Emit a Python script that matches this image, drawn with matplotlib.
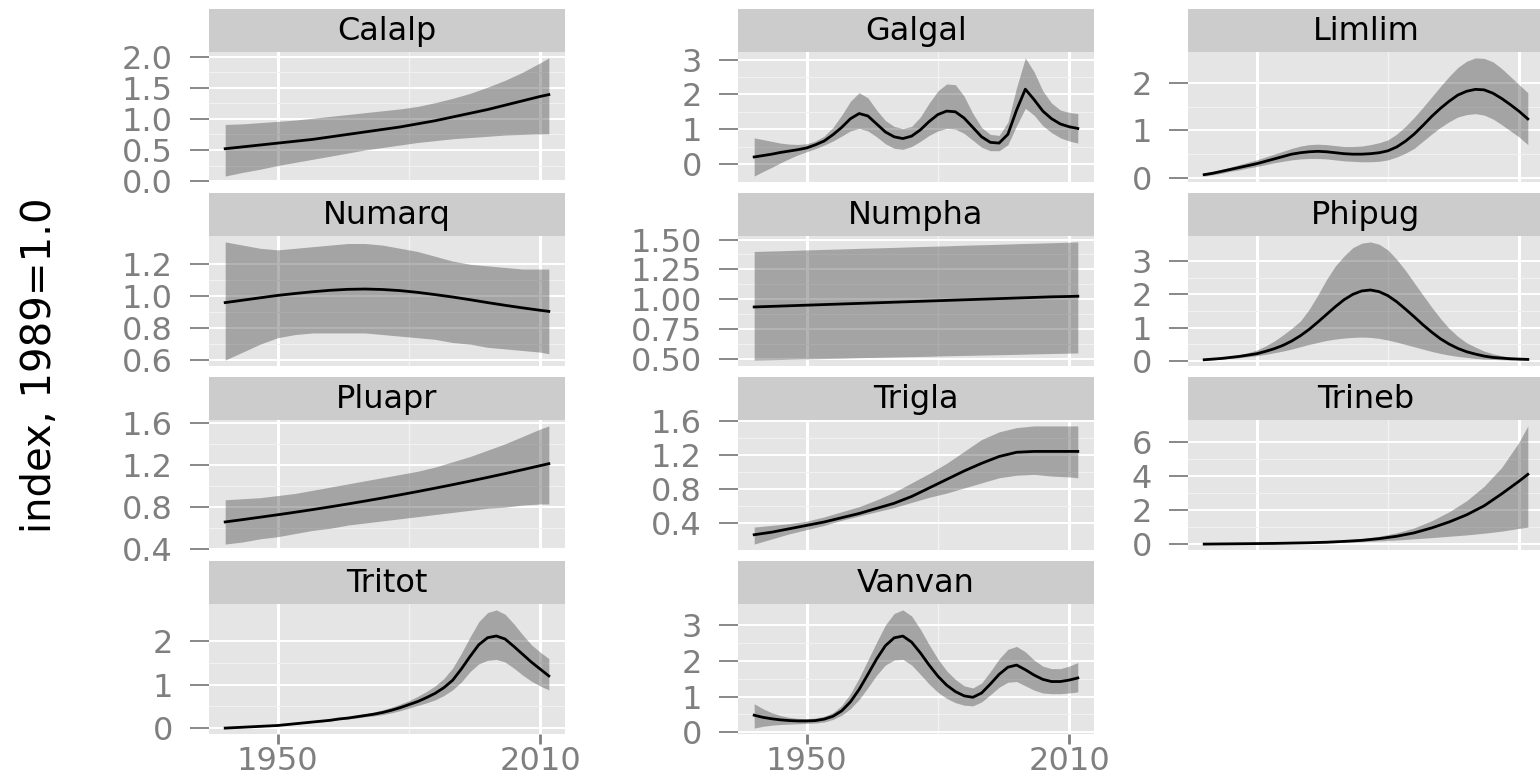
import matplotlib
matplotlib.use('Agg')
import matplotlib.pyplot as plt
import numpy as np

# ---- data (index, 1989=1.0) ----
years_4 = [1938, 1942, 1946, 1950, 1954, 1958, 1962, 1966, 1970, 1974,
           1978, 1982, 1986, 1990, 1994, 1998, 2002, 2006, 2010, 2012]
years_2 = [1938, 1940, 1942, 1944, 1946, 1948, 1950, 1952, 1954, 1956,
           1958, 1960, 1962, 1964, 1966, 1968, 1970, 1972, 1974, 1976,
           1978, 1980, 1982, 1984, 1986, 1988, 1990, 1992, 1994, 1996,
           1998, 2000, 2002, 2004, 2006, 2008, 2010, 2012]

calalp_fit = [0.52, 0.55, 0.58, 0.61, 0.64, 0.67, 0.71, 0.75, 0.79, 0.83, 0.87, 0.92, 0.97, 1.03, 1.09, 1.15, 1.22, 1.29, 1.36, 1.39]
calalp_hi = [0.91, 0.92, 0.94, 0.96, 0.98, 1.01, 1.04, 1.07, 1.10, 1.13, 1.16, 1.20, 1.26, 1.33, 1.41, 1.51, 1.62, 1.75, 1.90, 1.98]
calalp_lo = [0.08, 0.14, 0.19, 0.25, 0.30, 0.35, 0.40, 0.45, 0.50, 0.54, 0.58, 0.62, 0.65, 0.68, 0.70, 0.72, 0.74, 0.75, 0.76, 0.76]

galgal_fit = [0.20, 0.24, 0.28, 0.33, 0.37, 0.41, 0.46, 0.55, 0.66, 0.84, 1.05, 1.30, 1.45, 1.38, 1.15, 0.92, 0.78, 0.73, 0.80,
              0.98, 1.22, 1.42, 1.52, 1.50, 1.32, 1.05, 0.78, 0.62, 0.60, 0.85, 1.55, 2.15, 1.85, 1.52, 1.30, 1.15, 1.07, 1.02]
galgal_hi = [0.75, 0.70, 0.65, 0.60, 0.57, 0.56, 0.58, 0.66, 0.80, 1.05, 1.40, 1.80, 2.05, 1.90, 1.55, 1.25, 1.08, 1.02, 1.08,
             1.35, 1.75, 2.10, 2.30, 2.28, 1.95, 1.45, 1.05, 0.85, 0.82, 1.20, 2.20, 3.05, 2.65, 2.10, 1.75, 1.55, 1.48, 1.45]
galgal_lo = [-0.35, -0.22, -0.10, 0.03, 0.15, 0.26, 0.35, 0.44, 0.54, 0.66, 0.80, 0.95, 1.02, 0.95, 0.78, 0.58, 0.45, 0.42, 0.50,
             0.65, 0.82, 0.95, 1.02, 1.00, 0.88, 0.68, 0.48, 0.38, 0.38, 0.55, 1.10, 1.60, 1.40, 1.10, 0.90, 0.75, 0.66, 0.60]

limlim_fit = [0.07, 0.10, 0.14, 0.18, 0.22, 0.26, 0.30, 0.35, 0.40, 0.45, 0.50, 0.53, 0.55, 0.56, 0.55, 0.53, 0.51, 0.50, 0.50,
              0.51, 0.53, 0.57, 0.65, 0.77, 0.92, 1.10, 1.29, 1.46, 1.61, 1.74, 1.82, 1.86, 1.85, 1.78, 1.67, 1.54, 1.40, 1.24]
limlim_hi = [0.10, 0.14, 0.18, 0.23, 0.28, 0.33, 0.38, 0.44, 0.50, 0.56, 0.62, 0.67, 0.70, 0.71, 0.70, 0.68, 0.66, 0.66, 0.67,
             0.70, 0.74, 0.80, 0.92, 1.08, 1.27, 1.48, 1.70, 1.92, 2.13, 2.32, 2.45, 2.52, 2.51, 2.44, 2.30, 2.13, 1.96, 1.79]
limlim_lo = [0.04, 0.07, 0.10, 0.14, 0.17, 0.21, 0.24, 0.28, 0.32, 0.35, 0.38, 0.40, 0.41, 0.41, 0.40, 0.38, 0.36, 0.35, 0.34,
             0.34, 0.35, 0.38, 0.44, 0.52, 0.62, 0.77, 0.92, 1.06, 1.18, 1.28, 1.33, 1.35, 1.32, 1.24, 1.12, 0.99, 0.86, 0.70]

numarq_fit = [0.960, 0.975, 0.990, 1.005, 1.017, 1.028, 1.037, 1.043, 1.045, 1.042, 1.035, 1.024, 1.010, 0.995, 0.978, 0.960, 0.943, 0.927, 0.912, 0.905]
numarq_hi = [1.34, 1.32, 1.30, 1.29, 1.30, 1.31, 1.32, 1.33, 1.33, 1.32, 1.30, 1.28, 1.25, 1.22, 1.20, 1.19, 1.18, 1.17, 1.17, 1.17]
numarq_lo = [0.60, 0.65, 0.70, 0.74, 0.76, 0.77, 0.77, 0.77, 0.77, 0.76, 0.75, 0.74, 0.73, 0.71, 0.70, 0.68, 0.67, 0.66, 0.65, 0.64]

numpha_fit = [0.935, 0.94, 0.945, 0.95, 0.955, 0.96, 0.965, 0.97, 0.975, 0.98, 0.985, 0.99, 0.995, 1.00, 1.005, 1.01, 1.015, 1.02, 1.023, 1.025]
numpha_hi = [1.400, 1.404, 1.408, 1.413, 1.417, 1.421, 1.426, 1.430, 1.434, 1.439, 1.443, 1.447, 1.452, 1.456, 1.460, 1.465, 1.469, 1.473, 1.478, 1.480]
numpha_lo = [0.490, 0.493, 0.497, 0.500, 0.503, 0.506, 0.510, 0.513, 0.516, 0.519, 0.522, 0.526, 0.529, 0.532, 0.535, 0.538, 0.542, 0.545, 0.548, 0.550]

phipug_fit = [0.04, 0.06, 0.08, 0.11, 0.14, 0.18, 0.22, 0.29, 0.37, 0.47, 0.60, 0.76, 0.95, 1.17, 1.40, 1.63, 1.84, 2.00, 2.10,
              2.13, 2.08, 1.96, 1.78, 1.56, 1.33, 1.09, 0.87, 0.67, 0.51, 0.38, 0.28, 0.21, 0.15, 0.11, 0.09, 0.07, 0.06, 0.05]
phipug_hi = [0.05, 0.07, 0.10, 0.14, 0.19, 0.25, 0.33, 0.45, 0.60, 0.78, 0.98, 1.20, 1.55, 1.98, 2.45, 2.85, 3.15, 3.40, 3.53,
             3.57, 3.50, 3.33, 3.05, 2.72, 2.35, 1.98, 1.62, 1.28, 0.98, 0.74, 0.55, 0.42, 0.30, 0.22, 0.16, 0.12, 0.10, 0.08]
phipug_lo = [0.03, 0.04, 0.06, 0.08, 0.10, 0.13, 0.16, 0.20, 0.25, 0.30, 0.36, 0.43, 0.50, 0.56, 0.62, 0.66, 0.69, 0.71, 0.72,
             0.71, 0.68, 0.63, 0.57, 0.50, 0.43, 0.36, 0.29, 0.23, 0.18, 0.14, 0.11, 0.08, 0.06, 0.05, 0.04, 0.03, 0.03, 0.03]

pluapr_fit = [0.660, 0.682, 0.705, 0.728, 0.752, 0.777, 0.803, 0.830, 0.858, 0.887, 0.917, 0.948, 0.980, 1.013, 1.047, 1.082, 1.118, 1.155, 1.193, 1.212]
pluapr_hi = [0.87, 0.88, 0.89, 0.91, 0.93, 0.96, 0.99, 1.02, 1.05, 1.08, 1.11, 1.14, 1.18, 1.23, 1.28, 1.34, 1.40, 1.47, 1.54, 1.57]
pluapr_lo = [0.45, 0.47, 0.50, 0.52, 0.55, 0.58, 0.60, 0.63, 0.65, 0.67, 0.69, 0.71, 0.73, 0.75, 0.77, 0.79, 0.80, 0.82, 0.83, 0.83]

trigla_fit = [0.26, 0.29, 0.33, 0.37, 0.41, 0.46, 0.51, 0.57, 0.63, 0.71, 0.81, 0.91, 1.01, 1.10, 1.18, 1.23, 1.24, 1.24, 1.24, 1.24]
trigla_hi = [0.35, 0.37, 0.39, 0.42, 0.47, 0.53, 0.59, 0.67, 0.76, 0.87, 0.98, 1.10, 1.24, 1.38, 1.47, 1.52, 1.54, 1.54, 1.54, 1.54]
trigla_lo = [0.15, 0.21, 0.27, 0.32, 0.37, 0.43, 0.48, 0.53, 0.58, 0.64, 0.70, 0.75, 0.81, 0.87, 0.93, 0.96, 0.97, 0.95, 0.94, 0.93]

trineb_fit = [0.00, 0.01, 0.02, 0.03, 0.04, 0.06, 0.08, 0.11, 0.16, 0.22, 0.32, 0.46, 0.66, 0.95, 1.30, 1.72, 2.25, 2.95, 3.70, 4.10]
trineb_hi = [0.00, 0.01, 0.02, 0.04, 0.05, 0.07, 0.10, 0.15, 0.22, 0.32, 0.46, 0.66, 0.95, 1.37, 1.90, 2.55, 3.40, 4.50, 6.00, 6.95]
trineb_lo = [0.00, 0.00, 0.01, 0.02, 0.03, 0.04, 0.05, 0.07, 0.10, 0.14, 0.19, 0.24, 0.31, 0.38, 0.46, 0.54, 0.64, 0.76, 0.92, 1.00]

tritot_fit = [0.00, 0.01, 0.02, 0.03, 0.04, 0.05, 0.06, 0.08, 0.10, 0.12, 0.14, 0.16, 0.18, 0.21, 0.23, 0.26, 0.29, 0.32, 0.36,
              0.41, 0.47, 0.54, 0.61, 0.70, 0.80, 0.93, 1.10, 1.36, 1.65, 1.92, 2.08, 2.12, 2.05, 1.88, 1.70, 1.52, 1.36, 1.20]
tritot_hi = [0.01, 0.02, 0.03, 0.04, 0.05, 0.06, 0.07, 0.09, 0.11, 0.13, 0.15, 0.18, 0.20, 0.23, 0.26, 0.29, 0.33, 0.37, 0.42,
             0.48, 0.55, 0.63, 0.73, 0.84, 0.97, 1.14, 1.38, 1.72, 2.10, 2.45, 2.66, 2.72, 2.62, 2.40, 2.15, 1.92, 1.75, 1.60]
tritot_lo = [0.00, 0.00, 0.01, 0.02, 0.03, 0.04, 0.05, 0.07, 0.09, 0.11, 0.13, 0.14, 0.16, 0.19, 0.21, 0.23, 0.26, 0.28, 0.31,
             0.35, 0.40, 0.46, 0.52, 0.58, 0.65, 0.75, 0.88, 1.06, 1.30, 1.48, 1.56, 1.58, 1.52, 1.38, 1.22, 1.08, 0.97, 0.88]

vanvan_fit = [0.48, 0.42, 0.38, 0.35, 0.33, 0.32, 0.32, 0.33, 0.37, 0.45, 0.60, 0.85, 1.20, 1.62, 2.05, 2.42, 2.64, 2.69, 2.52,
              2.22, 1.88, 1.57, 1.32, 1.14, 1.02, 0.98, 1.10, 1.35, 1.62, 1.82, 1.88, 1.75, 1.60, 1.48, 1.42, 1.42, 1.46, 1.52]
vanvan_hi = [0.80, 0.66, 0.55, 0.47, 0.42, 0.39, 0.38, 0.40, 0.45, 0.55, 0.75, 1.08, 1.52, 2.02, 2.52, 3.00, 3.32, 3.42, 3.25,
             2.88, 2.45, 2.05, 1.72, 1.48, 1.30, 1.24, 1.38, 1.70, 2.05, 2.32, 2.40, 2.25, 2.02, 1.85, 1.78, 1.78, 1.85, 1.95]
vanvan_lo = [0.12, 0.17, 0.20, 0.22, 0.23, 0.24, 0.25, 0.26, 0.29, 0.36, 0.48, 0.66, 0.92, 1.25, 1.60, 1.88, 2.02, 2.04, 1.88,
             1.62, 1.35, 1.12, 0.95, 0.83, 0.76, 0.74, 0.85, 1.05, 1.26, 1.40, 1.42, 1.30, 1.18, 1.10, 1.08, 1.08, 1.10, 1.13]

x_major = [1950, 2010]
x_minor = [1980]
x_labels = ['1950', '2010']

# ---- look (old ggplot2 theme_grey, in pixels of a 1540x780 canvas) ----
FIG_W, FIG_H = 1540, 780
PANEL_LEFT = [209, 738, 1188]
PANEL_W = 356
ROW_TOP = [9, 193, 377, 561]
STRIP_H = 43
PANEL_H = 130
PANEL_BG = '#E5E5E5'
STRIP_BG = '#CCCCCC'
RIBBON = '#444444'
TICK_GREY = '#7F7F7F'
TICK_SIZE = 23
STRIP_SIZE = 23


def add_panel(fig, col, row, name, years, fit, lo, hi, yticks, ylabels, show_x=False):
  left = PANEL_LEFT[col] / FIG_W
  width = PANEL_W / FIG_W
  top = ROW_TOP[row]

  strip = fig.add_axes([left, 1 - (top + STRIP_H) / FIG_H, width, STRIP_H / FIG_H])
  strip.set_facecolor(STRIP_BG)
  strip.set_xticks([])
  strip.set_yticks([])
  for s in strip.spines.values():
    s.set_visible(False)
  strip.text(0.5, 0.47, name, ha='center', va='center', fontsize=STRIP_SIZE,
             color='black', transform=strip.transAxes)

  ax = fig.add_axes([left, 1 - (top + STRIP_H + PANEL_H) / FIG_H, width, PANEL_H / FIG_H])
  ax.set_facecolor(PANEL_BG)
  ax.set_axisbelow(True)
  ax.fill_between(years, lo, hi, color=RIBBON, alpha=0.4, linewidth=0)
  ax.plot(years, fit, color='black', linewidth=2)
  ax.margins(x=0.05, y=0.05)
  xlim, ylim = ax.get_xlim(), ax.get_ylim()

  ax.set_xticks(x_major)
  ax.set_xticks(x_minor, minor=True)
  ax.set_yticks(yticks)
  ax.set_yticklabels(ylabels)
  ax.set_yticks([(a + b) / 2 for a, b in zip(yticks[:-1], yticks[1:])], minor=True)
  ax.set_xlim(xlim)
  ax.set_ylim(ylim)

  ax.grid(which='major', axis='x', color='white', linewidth=2.2)
  ax.grid(which='minor', axis='x', color='#F2F2F2', linewidth=1.0)
  ax.grid(which='major', axis='y', color='white', linewidth=1.4)
  ax.grid(which='minor', axis='y', color='#F2F2F2', linewidth=0.7)
  for s in ax.spines.values():
    s.set_visible(False)

  ax.tick_params(which='minor', length=0)
  ax.tick_params(axis='y', which='major', length=14, width=1.3, pad=12,
                 color=TICK_GREY, labelcolor=TICK_GREY, labelsize=TICK_SIZE)
  if show_x:
    ax.set_xticklabels(x_labels)
    ax.tick_params(axis='x', which='major', length=7, width=2.0, pad=2,
                   color=TICK_GREY, labelcolor=TICK_GREY, labelsize=TICK_SIZE)
  else:
    ax.tick_params(axis='x', which='major', length=0, labelbottom=False)
  return ax


fig = plt.figure(figsize=(FIG_W / 100, FIG_H / 100), dpi=100)

add_panel(fig, 0, 0, 'Calalp', years_4, calalp_fit, calalp_lo, calalp_hi,
          [0, 0.5, 1.0, 1.5, 2.0], ['0.0', '0.5', '1.0', '1.5', '2.0'])
add_panel(fig, 1, 0, 'Galgal', years_2, galgal_fit, galgal_lo, galgal_hi,
          [0, 1, 2, 3], ['0', '1', '2', '3'])
add_panel(fig, 2, 0, 'Limlim', years_2, limlim_fit, limlim_lo, limlim_hi,
          [0, 1, 2], ['0', '1', '2'])
add_panel(fig, 0, 1, 'Numarq', years_4, numarq_fit, numarq_lo, numarq_hi,
          [0.6, 0.8, 1.0, 1.2], ['0.6', '0.8', '1.0', '1.2'])
add_panel(fig, 1, 1, 'Numpha', years_4, numpha_fit, numpha_lo, numpha_hi,
          [0.5, 0.75, 1.0, 1.25, 1.5], ['0.50', '0.75', '1.00', '1.25', '1.50'])
add_panel(fig, 2, 1, 'Phipug', years_2, phipug_fit, phipug_lo, phipug_hi,
          [0, 1, 2, 3], ['0', '1', '2', '3'])
add_panel(fig, 0, 2, 'Pluapr', years_4, pluapr_fit, pluapr_lo, pluapr_hi,
          [0.4, 0.8, 1.2, 1.6], ['0.4', '0.8', '1.2', '1.6'])
add_panel(fig, 1, 2, 'Trigla', years_4, trigla_fit, trigla_lo, trigla_hi,
          [0.4, 0.8, 1.2, 1.6], ['0.4', '0.8', '1.2', '1.6'])
add_panel(fig, 2, 2, 'Trineb', years_4, trineb_fit, trineb_lo, trineb_hi,
          [0, 2, 4, 6], ['0', '2', '4', '6'])
add_panel(fig, 0, 3, 'Tritot', years_2, tritot_fit, tritot_lo, tritot_hi,
          [0, 1, 2], ['0', '1', '2'], show_x=True)
add_panel(fig, 1, 3, 'Vanvan', years_2, vanvan_fit, vanvan_lo, vanvan_hi,
          [0, 1, 2, 3], ['0', '1', '2', '3'], show_x=True)

fig.text(40 / FIG_W, 1 - 365 / FIG_H, 'index, 1989=1.0', rotation=90,
         ha='center', va='center', fontsize=29, color='black')

fig.savefig('out.png', dpi=100)
